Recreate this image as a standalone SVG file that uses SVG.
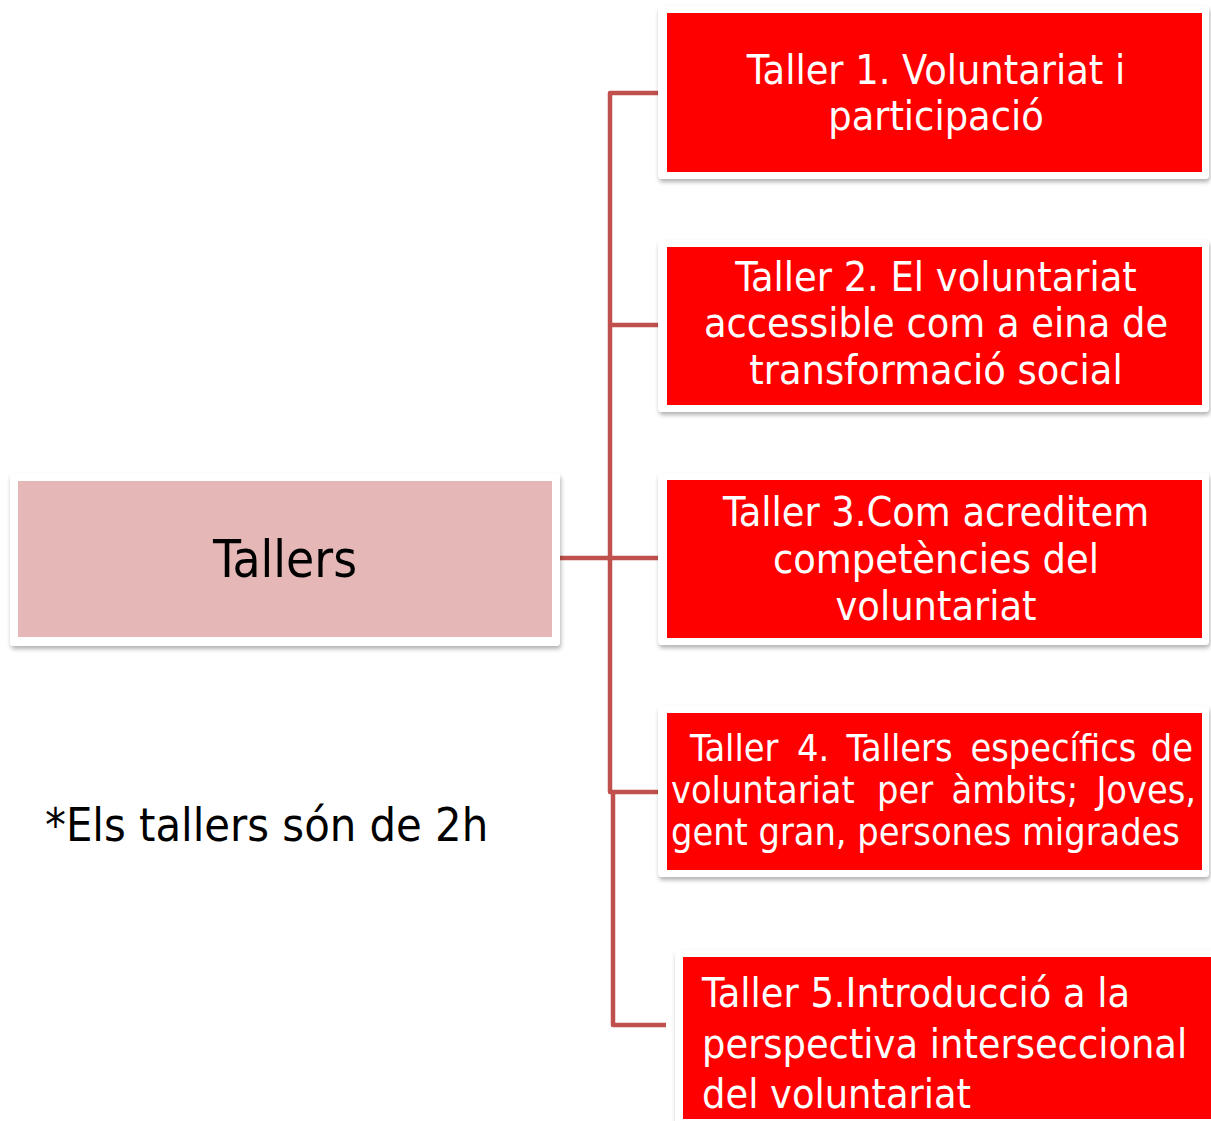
<svg xmlns="http://www.w3.org/2000/svg" width="1211" height="1121" viewBox="0 0 1211 1121">
<style>
.frame{fill:#ffffff;filter:url(#sh)}
.red{fill:#ff0000}
.pink{fill:#e5b8b7}
.wt{font-family:"DejaVu Sans Condensed","DejaVu Sans",sans-serif;font-stretch:condensed;font-size:41px;fill:#ffffff}
.wt.s{font-size:37.5px}
.bk{font-family:"DejaVu Sans Condensed","DejaVu Sans",sans-serif;font-stretch:condensed;fill:#000000}
.c{text-anchor:middle}
.conn{stroke:#c0504d;stroke-width:4.5;fill:none;stroke-linejoin:round}
</style>
<defs>
<filter id="sh" x="-5%" y="-10%" width="110%" height="125%">
<feDropShadow dx="1" dy="3" stdDeviation="2" flood-color="#000" flood-opacity="0.3"/>
</filter>
</defs>
<g id="connectors">
<path class="conn" d="M660,93 H610 V792 H660"/>
<path class="conn" d="M610,325 H660"/>
<path class="conn" d="M560,558 H660"/>
<path class="conn" d="M613,792 V1025 H666"/>
</g>
<g id="tallers">
<rect class="frame" x="10" y="473" width="550" height="173" rx="4"/>
<rect class="pink" x="18" y="481" width="534" height="156"/>
<text class="bk c" x="285" y="577" font-size="51">Tallers</text>
</g>
<g id="taller1">
<rect class="frame" x="658" y="6" width="551" height="173" rx="4"/>
<rect class="red" x="667" y="13" width="535" height="159"/>
<text class="wt c" x="936" y="84">Taller 1. Voluntariat i</text>
<text class="wt c" x="936" y="130">participació</text>
</g>
<g id="taller2">
<rect class="frame" x="658" y="240" width="551" height="172" rx="4"/>
<rect class="red" x="667" y="247" width="535" height="158"/>
<text class="wt c" x="936" y="291">Taller 2. El voluntariat</text>
<text class="wt c" x="936" y="337">accessible com a eina de</text>
<text class="wt c" x="936" y="384">transformació social</text>
</g>
<g id="taller3">
<rect class="frame" x="658" y="473" width="551" height="172" rx="4"/>
<rect class="red" x="667" y="480" width="535" height="158"/>
<text class="wt c" x="936" y="526">Taller 3.Com acreditem</text>
<text class="wt c" x="936" y="573">competències del</text>
<text class="wt c" x="936" y="620">voluntariat</text>
</g>
<g id="taller4">
<rect class="frame" x="658" y="706" width="551" height="171" rx="4"/>
<rect class="red" x="667" y="713" width="535" height="157"/>
<text class="wt s" y="761"><tspan x="690">Taller</tspan><tspan x="797">4.</tspan><tspan x="846.5">Tallers</tspan><tspan x="970.5">específics</tspan><tspan x="1193" text-anchor="end">de</tspan></text>
<text class="wt s" y="803"><tspan x="671">voluntariat</tspan><tspan x="877">per</tspan><tspan x="951.5">àmbits;</tspan><tspan x="1196" text-anchor="end">Joves,</tspan></text>
<text class="wt s" x="671" y="845">gent gran, persones migrades</text>
</g>
<g id="taller5">
<rect class="frame" x="675" y="950" width="540" height="175" rx="4"/>
<rect class="red" x="683" y="957" width="530" height="162"/>
<text class="wt" x="702" y="1007">Taller 5.Introducció a la</text>
<text class="wt" x="702" y="1058">perspectiva interseccional</text>
<text class="wt" x="702" y="1108">del voluntariat</text>
</g>
<g id="note">
<text class="bk" x="45" y="841" font-size="46.5">*Els tallers són de 2h</text>
</g>
</svg>
